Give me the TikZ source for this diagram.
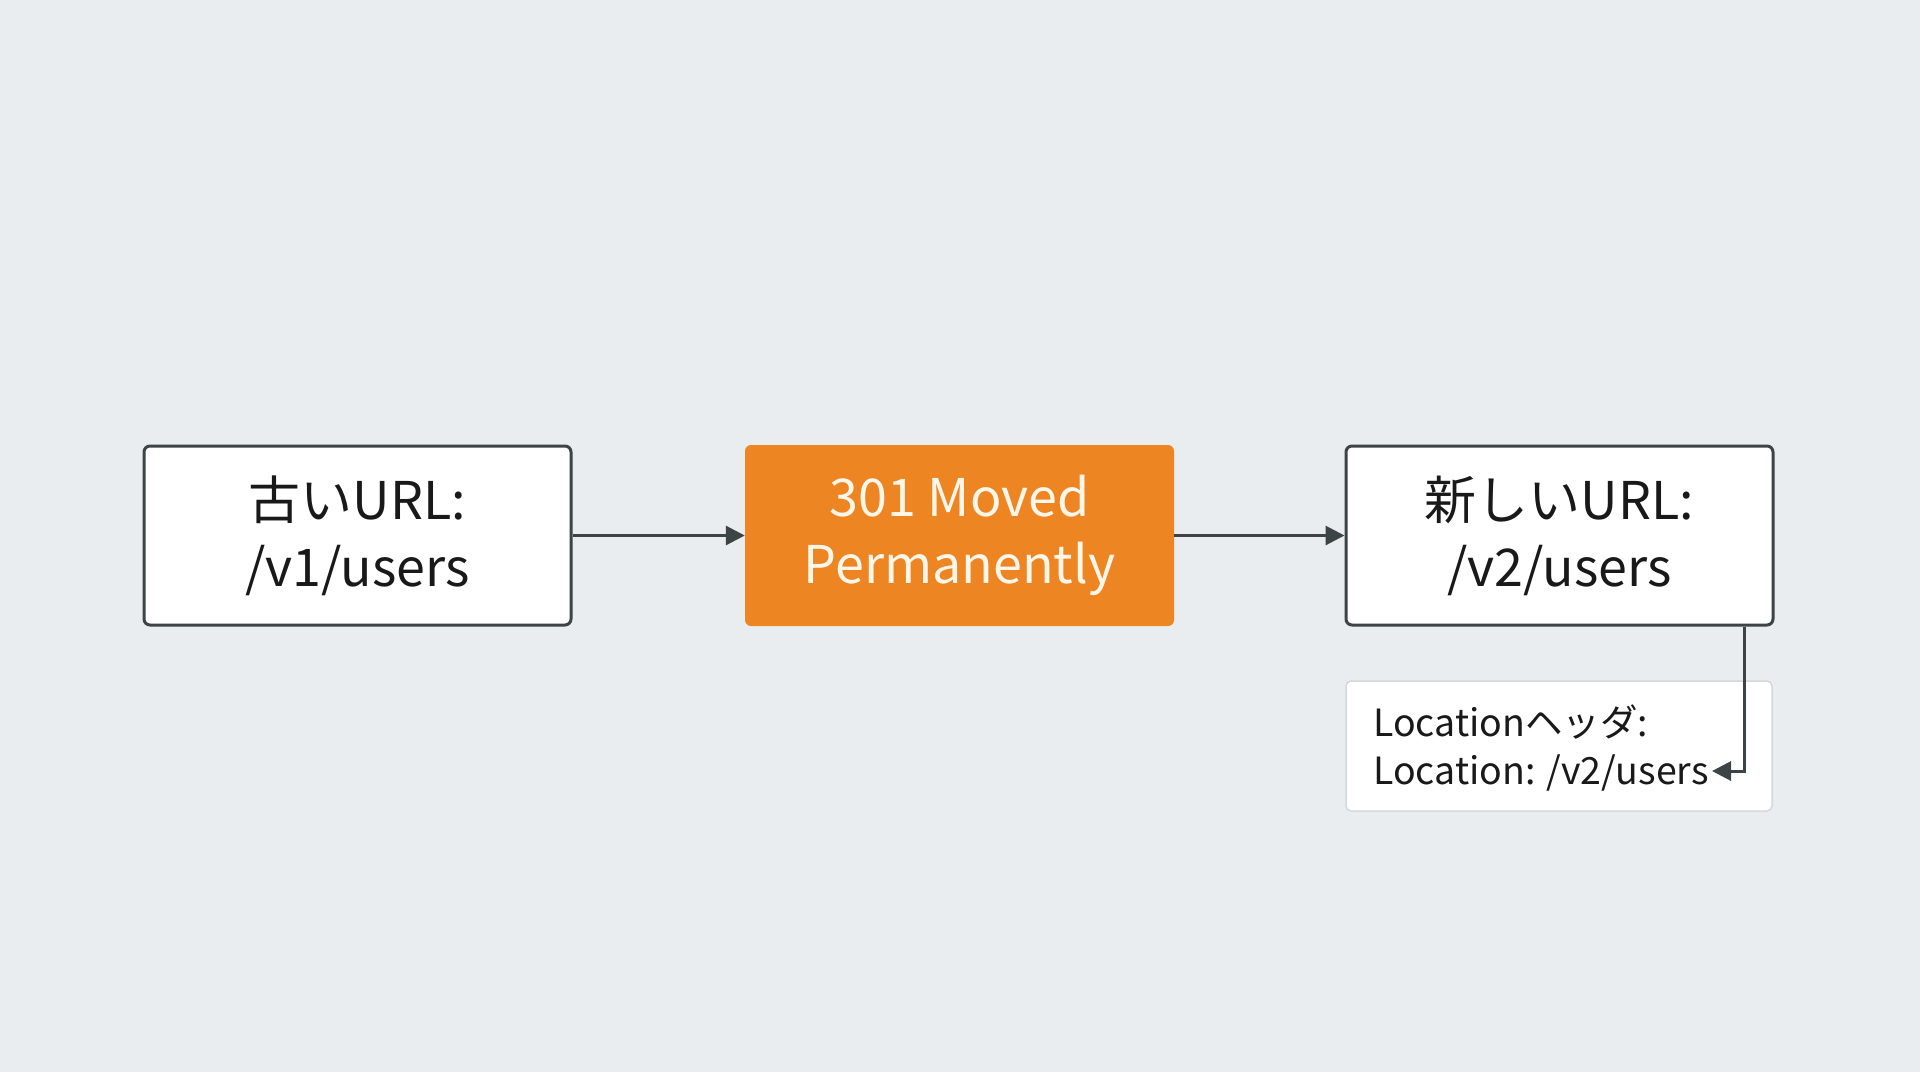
\documentclass[tikz,border=0pt]{standalone}
\usepackage{fontspec}
\setmainfont{Noto Sans CJK JP}
\usetikzlibrary{arrows.meta}
\definecolor{bg}{HTML}{E9EDF0}
\definecolor{edge}{HTML}{3D4448}
\definecolor{orng}{HTML}{EE8523}
\definecolor{cream}{HTML}{FFF6EA}
\definecolor{lightedge}{HTML}{D3D8DC}
\tikzset{
  mainbox/.style={draw=edge, line width=3pt, fill=white, rounded corners=6pt,
    minimum width=427pt, minimum height=179pt, align=center, inner sep=0pt,
    font=\fontsize{52pt}{67pt}\selectfont, text=black!90},
  hotbox/.style={fill=orng, rounded corners=6pt, minimum width=429pt, minimum height=181pt,
    align=center, inner sep=0pt, font=\fontsize{52pt}{67pt}\selectfont, text=cream},
  notebox/.style={draw=lightedge, line width=1.5pt, fill=white, rounded corners=5pt,
    minimum width=426pt, minimum height=130pt, align=left, inner sep=0pt},
  notetext/.style={align=left, inner sep=0pt, font=\fontsize{37.5pt}{48pt}\selectfont, text=black!90},
  arr/.style={draw=edge, line width=3pt, -{Triangle[length=19pt,width=19pt]}},
}
\begin{document}
\begin{tikzpicture}[x=1pt,y=-1pt]
\useasboundingbox (0,0) rectangle (1920,1072);
\fill[bg] (0,0) rectangle (1920,1072);
\node[mainbox] (old) at (357.5,535.5) {古いURL:\\/v1/users};
\node[hotbox] (moved) at (959.5,535.5) {301 Moved\\Permanently};
\node[mainbox] (new) at (1559.5,535.5) {新しいURL:\\/v2/users};
\node[notebox] (loc) at (1559,746) {};
\node[notetext, anchor=west] (loctext) at (1373,748) {Locationヘッダ:\\Location: /v2/users};
\coordinate (tip) at (1712,771);
\draw[arr] (old.east) -- (moved.west);
\draw[arr] (moved.east) -- (new.west);
\draw[arr] (new.south -| 1744,0) |- (tip);
\end{tikzpicture}
\end{document}
